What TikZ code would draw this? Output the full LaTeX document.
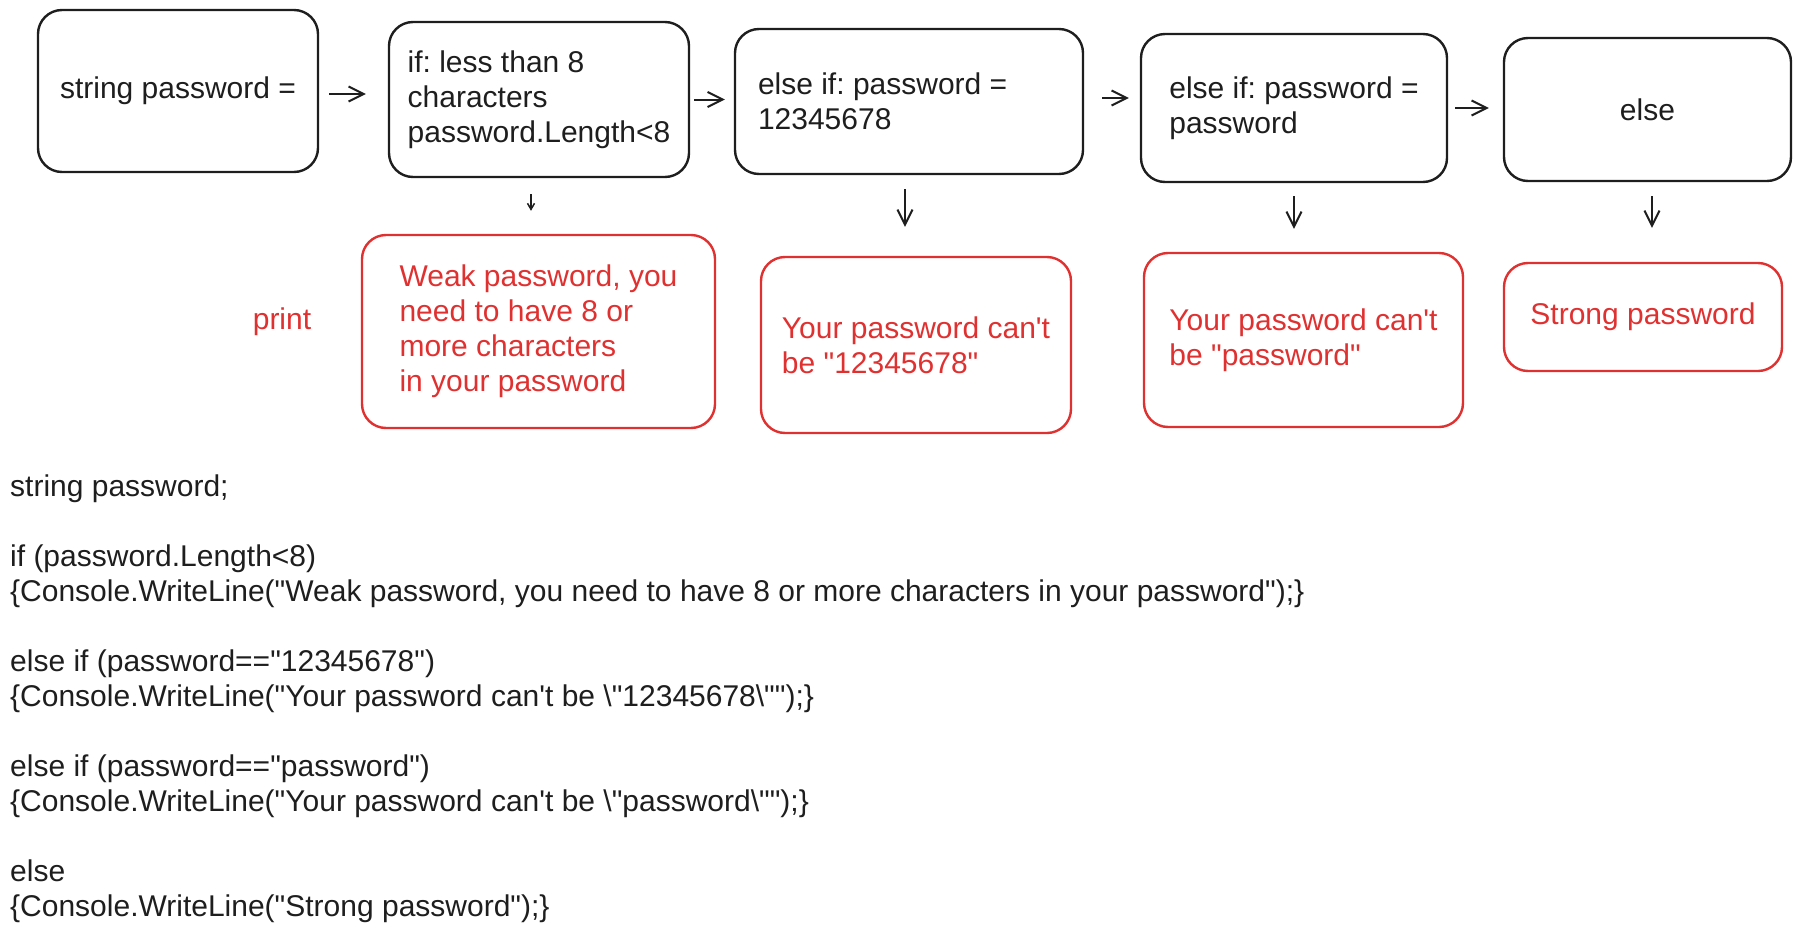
\documentclass[tikz,border=0pt]{standalone}
\usepackage{fontspec}
\newfontfamily\sketchfont{Liberation Sans}
\usepackage{tikz}
\usetikzlibrary{arrows.meta}
\usepackage{xcolor}
\definecolor{inkblack}{HTML}{1E1E1E}
\definecolor{inkred}{HTML}{E03131}

\begin{document}
\begin{tikzpicture}[x=1pt, y=-1pt,
    every node/.style={font=\sketchfont\frenchspacing\fontsize{30}{35}\selectfont},
    cond/.style={draw=inkblack, text=inkblack, line width=2.4pt, rounded corners=24pt, align=left},
    msg/.style={draw=inkred, text=inkred, line width=2.4pt, rounded corners=24pt, align=left},
    arr/.style={-{Straight Barb[length=15pt, width=15pt]}, inkblack, line width=2pt},
    tinyarr/.style={-{Straight Barb[length=6pt, width=7pt]}, inkblack, line width=1.5pt}]
        \useasboundingbox (0, 0) rectangle (1800, 937);
        % conditions
        \node[cond, minimum width=280pt, minimum height=162pt] (pw) at (178, 91) {string password =};
        \node[cond, minimum width=300pt, minimum height=155pt] (short) at (539, 99.5) {if: less than 8\\characters\\password.Length<8};
        \node[cond, align=flush left, text width=302pt, inner xsep=23pt, minimum height=145pt] (digits) at (909, 101.5) {else if: password =\\12345678};
        \node[cond, minimum width=306pt, minimum height=148pt] (word) at (1294, 108) {else if: password =\\password};
        \node[cond, minimum width=287pt, minimum height=143pt] (other) at (1647.5, 109.5) {else};
        % print
        \node[text=inkred] (print) at (282, 322) {print};
        \node[msg, minimum width=353pt, minimum height=193pt] (weak) at (538.5, 331.5) {Weak password, you\\need to have 8 or\\more characters\\in your password};
        \node[msg, minimum width=310pt, minimum height=176pt] (nodigits) at (916, 345) {Your password can't\\be "12345678"};
        \node[msg, minimum width=319pt, minimum height=174pt] (noword) at (1303.5, 340) {Your password can't\\be "password"};
        \node[msg, minimum width=278pt, minimum height=108pt] (strong) at (1643, 317) {Strong password};
        % flow
        \draw[arr, shorten <=10pt, shorten >=22pt] ([yshift=-3pt]pw.east) -- ([yshift=-3pt]pw.east -| short.west);
        \draw[arr, shorten <=4pt, shorten >=9pt] (short.east) -- (short.east -| digits.west);
        \draw[arr, shorten <=18pt, shorten >=11pt] ([yshift=3.5pt]digits.east) -- ([yshift=3.5pt]digits.east -| word.west);
        \draw[arr, shorten <=7pt, shorten >=14pt] (word.east) -- (word.east -| other.west);
        \draw[tinyarr, shorten <=16pt, shorten >=23pt] ([xshift=-8pt]short.south) -- ([xshift=-8pt]short.south |- weak.north);
        \draw[arr, shorten <=14pt, shorten >=29pt] ([xshift=-4pt]digits.south) -- ([xshift=-4pt]digits.south |- nodigits.north);
        \draw[arr, shorten <=13pt, shorten >=23pt] (word.south) -- (word.south |- noword.north);
        \draw[arr, shorten <=14pt, shorten >=34pt] ([xshift=4.5pt]other.south) -- ([xshift=4.5pt]other.south |- strong.north);
        % code
        \node[text=inkblack, align=left, anchor=base west, inner sep=0pt] (code) at (10, 916) {string password;\\[35pt]
            if (password.Length<8)\\
            \{Console.WriteLine("Weak password, you need to have 8 or more characters in your password");\}\\[35pt]
            else if (password=="12345678")\\
            \{Console.WriteLine("Your password can't be \textbackslash"12345678\textbackslash"");\}\\[35pt]
            else if (password=="password")\\
            \{Console.WriteLine("Your password can't be \textbackslash"password\textbackslash"");\}\\[35pt]
            else\\
            \{Console.WriteLine("Strong password");\}};
\end{tikzpicture}
\end{document}
